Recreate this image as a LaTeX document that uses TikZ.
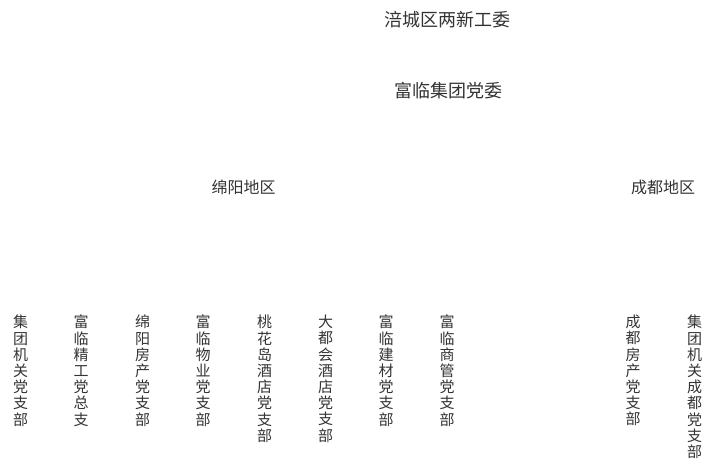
\documentclass[tikz,border=0pt]{standalone}
\usepackage{fontspec}
\newfontfamily\cjk{Noto Sans CJK SC}
\usepackage{tikz}

\begin{document}
\begin{tikzpicture}
                            [x=1pt,y=-1pt,
                            head/.style = {font=\cjk\fontsize{18}{20}\selectfont,
                                        text=black!80, inner sep=0pt},
                            area/.style = {font=\cjk\fontsize{16}{18}\selectfont,
                                        text=black!80, inner sep=0pt},
                            unit/.style = {font=\cjk\fontsize{15}{16.2}\selectfont,
                                        text=black!80, inner sep=0pt,
                                        align=center, anchor=north}]
                            \useasboundingbox (0,0) rectangle (723,469);
                            % Comites
                            \node[head] (gw) at (447.5,20) {涪城区两新工委};
                            \node[head] (dw) at (448,91) {富临集团党委};
                            % Regiones
                            \node[area] (my) at (243.5,187) {绵阳地区};
                            \node[area] (cd) at (663,187) {成都地区};
                            % Sucursales de Mianyang
                            \node[unit] (my1) at (20.5,315) {集\\团\\机\\关\\党\\支\\部};
                            \node[unit] (my2) at (81,315) {富\\临\\精\\工\\党\\总\\支};
                            \node[unit] (my3) at (142.5,315) {绵\\阳\\房\\产\\党\\支\\部};
                            \node[unit] (my4) at (203,315) {富\\临\\物\\业\\党\\支\\部};
                            \node[unit] (my5) at (264.5,315) {桃\\花\\岛\\酒\\店\\党\\支\\部};
                            \node[unit] (my6) at (325.5,315) {大\\都\\会\\酒\\店\\党\\支\\部};
                            \node[unit] (my7) at (386,315) {富\\临\\建\\材\\党\\支\\部};
                            \node[unit] (my8) at (447,315) {富\\临\\商\\管\\党\\支\\部};
                            % Sucursales de Chengdu
                            \node[unit] (cd1) at (633,315) {成\\都\\房\\产\\党\\支\\部};
                            \node[unit] (cd2) at (694.5,315) {集\\团\\机\\关\\成\\都\\党\\支\\部};
                        \end{tikzpicture}
\end{document}
